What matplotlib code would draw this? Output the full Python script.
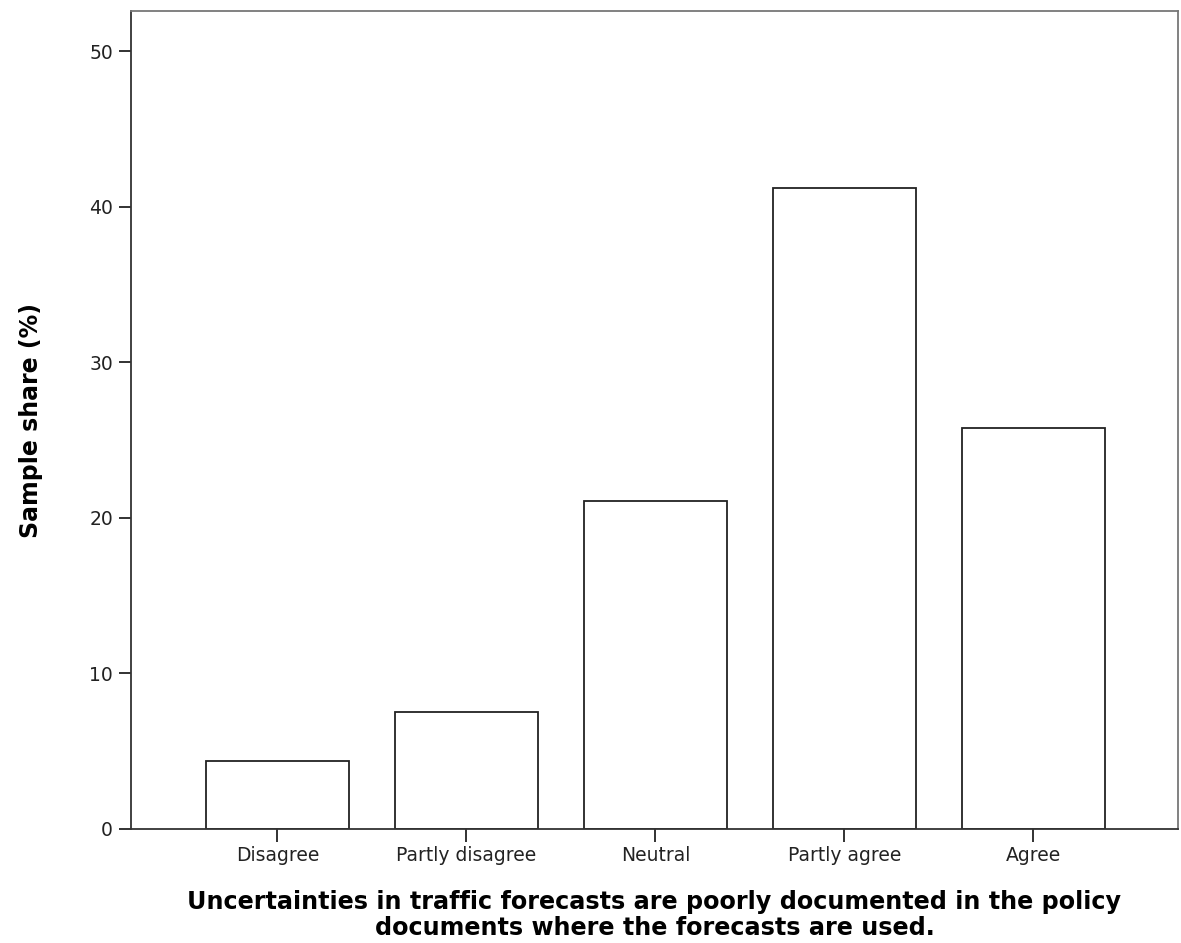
import matplotlib
matplotlib.use("Agg")
import matplotlib.pyplot as plt

categories = ["Disagree", "Partly disagree", "Neutral", "Partly agree", "Agree"]
shares = [4.4, 7.5, 21.1, 41.2, 25.8]
yticks = [0, 10, 20, 30, 40, 50]

plt.rcParams['font.family'] = ['DejaVu Sans']

fig = plt.figure(figsize=(11.81, 9.43), dpi=100)
ax = fig.add_axes([0.1109, 0.1209, 0.8866, 0.8674])

x = list(range(len(categories)))
ax.bar(x, shares, width=0.757, facecolor='white', edgecolor='#222222', linewidth=1.3)

ax.set_xlim(-0.775, 4.765)
ax.set_ylim(0, 52.57)
ax.set_yticks(yticks)
ax.set_xticks(x)
ax.set_xticklabels(categories, fontsize=13.5, color='#222222')
ax.tick_params(axis='y', labelsize=13.5, labelcolor='#222222', length=9, width=1.3, color='#222222', pad=4)
ax.tick_params(axis='x', length=9, width=1.3, color='#222222', pad=3.5)

for s in ax.spines.values():
    s.set_linewidth(1.3)
    s.set_color('#333333')
ax.spines['top'].set_color('#777777')
ax.spines['right'].set_color('#777777')

ax.set_ylabel("Sample share (%)", fontsize=17, fontweight='bold', labelpad=33)
ax.set_xlabel("Uncertainties in traffic forecasts are poorly documented in the policy\ndocuments where the forecasts are used.",
              fontsize=17.2, fontweight='bold', labelpad=18, linespacing=1.1)

fig.savefig("out.png", dpi=100)
